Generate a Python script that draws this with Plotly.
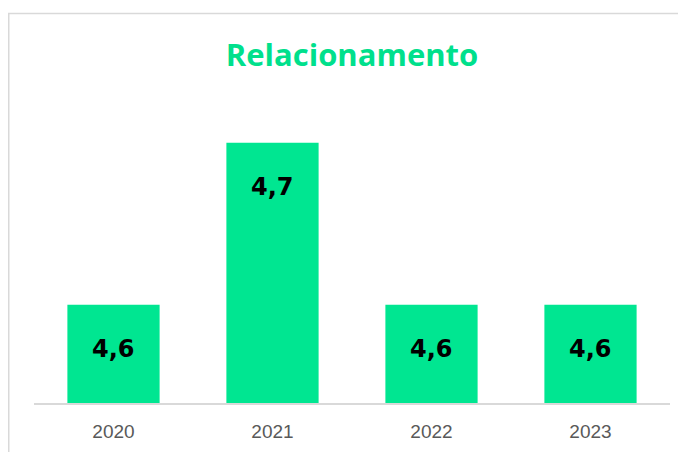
import plotly.graph_objects as go

categories = ["2020", "2021", "2022", "2023"]
values = [4.6, 4.7, 4.6, 4.6]
value_labels = ["4,6", "4,7", "4,6", "4,6"]

bar_color = "#00E691"
title_color = "#00E08C"

fig = go.Figure()
fig.add_trace(go.Bar(
    x=categories, y=values,
    marker=dict(color=bar_color, line=dict(width=0)),
    width=[0.58] * len(categories),
    hoverinfo="skip",
))

# value labels inside the bars (x given as category index on the category axis)
for i, (v, t) in enumerate(zip(values, value_labels)):
    fig.add_annotation(
        x=i, y=v, text=t, showarrow=False,
        xref="x", yref="y", yanchor="middle", yshift=-44,
        font=dict(family="DejaVu Sans", size=24, color="#000000", weight="bold"),
    )

# outer chart border (light gray frame, partially out of view like the reference)
fig.add_shape(type="rect", xref="paper", yref="paper",
              x0=-0.0397, x1=1.2, y0=-0.5, y1=1.3294,
              line=dict(color="#D9D9D9", width=1.5), fillcolor="rgba(0,0,0,0)",
              layer="below")

fig.update_layout(
    width=686, height=452,
    margin=dict(l=26, r=24, t=102, b=57, autoexpand=False),
    paper_bgcolor="white", plot_bgcolor="white",
    showlegend=False,
    title=dict(text="<b>Relacionamento</b>", x=0.5, xref="paper",
               y=1 - 47 / 452, yref="container", yanchor="middle", xanchor="center",
               font=dict(family="Open Sans", size=31, color=title_color)),
    xaxis=dict(type="category", range=[-0.5, len(categories) - 0.5], autorange=False,
               showgrid=False, zeroline=False, showline=True,
               linecolor="#D9D9D9", linewidth=1.5, ticks="", ticklabelstandoff=10,
               tickfont=dict(family="Liberation Sans", size=19, color="#595959")),
    yaxis=dict(visible=False, range=[4.5393, 4.7202], autorange=False,
               showgrid=False, zeroline=False),
)

fig.write_html("out.html")
